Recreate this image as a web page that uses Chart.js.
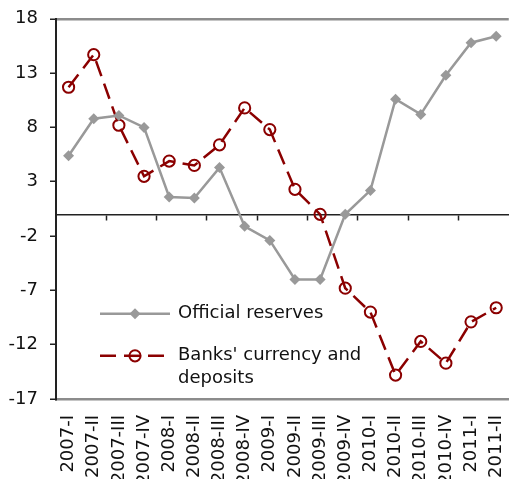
<!DOCTYPE html>
<html>
<head>
<meta charset="utf-8">
<script src="https://cdn.jsdelivr.net/npm/chart.js@4.4.0/dist/chart.umd.min.js"></script>
<style>
  html, body { margin: 0; padding: 0; background: #fff; overflow: hidden; }
  #wrap { width: 526px; height: 483px; margin-top: -4px; }
</style>
</head>
<body>
<div id="wrap"><canvas id="flows-chart"></canvas></div>
<script>
// Quarterly flows, 2007-I to 2011-II
const quarters = ['2007-I', '2007-II', '2007-III', '2007-IV', '2008-I', '2008-II', '2008-III', '2008-IV',
  '2009-I', '2009-II', '2009-III', '2009-IV', '2010-I', '2010-II', '2010-III', '2010-IV', '2011-I', '2011-II'];
const officialReserves = [5.4, 8.8, 9.1, 8.0, 1.6, 1.5, 4.3, -1.1, -2.4, -6.0, -6.0, 0.0, 2.2, 10.6, 9.2, 12.8, 15.8, 16.4];
const banksDeposits = [11.7, 14.7, 8.2, 3.5, 4.9, 4.5, 6.4, 9.8, 7.8, 2.3, 0.0, -6.8, -9.0, -14.8, -11.7, -13.7, -9.9, -8.6];
const yTicks = [18, 13, 8, 3, -2, -7, -12, -17];

const FONT = 'DejaVu Sans';
const GREY = '#999999';
const RED = '#8b0000';

// legend drawn inside the plot area, lower left
const insideLegend = {
    id: 'insideLegend',
    afterDatasetsDraw(chart) {
        const ctx = chart.ctx;
        const area = chart.chartArea;
        const x0 = area.left + 44, x1 = area.left + 114, mx = area.left + 79, tx = area.left + 122;
        const rows = [
            { y: area.top + 295, ds: chart.data.datasets[0], lines: ['Official reserves'] },
            { y: area.top + 337, ds: chart.data.datasets[1], lines: ["Banks' currency and", 'deposits'] }
        ];
        ctx.save();
        rows.forEach(function (row) {
            const ds = row.ds;
            ctx.strokeStyle = ds.borderColor;
            ctx.lineWidth = ds.borderWidth;
            ctx.setLineDash(ds.borderDash || []);
            ctx.beginPath();
            ctx.moveTo(x0, row.y);
            ctx.lineTo(x1, row.y);
            ctx.stroke();
            ctx.setLineDash([]);
            const r = ds.pointRadius;
            if (ds.pointStyle === 'rectRot') {
                ctx.fillStyle = ds.pointBackgroundColor;
                ctx.beginPath();
                ctx.moveTo(mx, row.y - r);
                ctx.lineTo(mx + r, row.y);
                ctx.lineTo(mx, row.y + r);
                ctx.lineTo(mx - r, row.y);
                ctx.closePath();
                ctx.fill();
            } else {
                ctx.fillStyle = '#fff';
                ctx.strokeStyle = ds.pointBorderColor;
                ctx.lineWidth = ds.pointBorderWidth;
                ctx.beginPath();
                ctx.arc(mx, row.y, r, 0, Math.PI * 2);
                ctx.fill();
                ctx.stroke();
                ctx.strokeStyle = ds.borderColor;
                ctx.lineWidth = ds.borderWidth;
                ctx.beginPath();
                ctx.moveTo(mx - r, row.y);
                ctx.lineTo(mx + r, row.y);
                ctx.stroke();
            }
            ctx.fillStyle = '#111';
            ctx.font = '18px "' + FONT + '"';
            ctx.textBaseline = 'middle';
            ctx.textAlign = 'left';
            row.lines.forEach(function (line, i) {
                ctx.fillText(line, tx, row.y + i * 23);
            });
        });
        ctx.restore();
    }
};

const ctx = document.querySelector('#flows-chart').getContext('2d');

const flowsGraph = new Chart(ctx, {
    type: 'line',
    data: {
        labels: quarters,
        datasets: [
            {
                label: 'Official reserves',
                data: officialReserves,
                borderColor: GREY,
                borderWidth: 2.5,
                pointStyle: 'rectRot',
                pointRadius: 5.5,
                pointBackgroundColor: GREY,
                pointBorderColor: GREY,
                pointBorderWidth: 0,
                tension: 0
            },
            {
                label: "Banks' currency and deposits",
                data: banksDeposits,
                borderColor: RED,
                borderWidth: 2.5,
                borderDash: [16, 8],
                pointStyle: 'circle',
                pointRadius: 5.6,
                pointBackgroundColor: 'rgba(0,0,0,0)',
                pointBorderColor: RED,
                pointBorderWidth: 2,
                tension: 0
            }
        ]
    },
    options: {
        responsive: true,
        maintainAspectRatio: false,
        animation: false,
        layout: { padding: { top: 12, right: 0, left: 0, bottom: 0 } },
        plugins: {
            legend: { display: false },
            tooltip: { enabled: false }
        },
        scales: {
            x: {
                offset: true,
                border: { color: '#8c8c8c', width: 2.5 },
                grid: { display: false },
                ticks: {
                    color: '#111',
                    font: { family: FONT, size: 18 },
                    minRotation: 90,
                    maxRotation: 90,
                    autoSkip: false,
                    padding: 8
                },
                afterFit(scale) { scale.height = 80; }
            },
            // zero line with tick marks every two quarters
            x0: {
                type: 'category',
                position: { y: 0 },
                offset: true,
                border: { color: '#222', width: 1.5 },
                grid: {
                    offset: true,
                    drawOnChartArea: false,
                    tickLength: 5,
                    tickWidth: 1.5,
                    tickColor: function (c) { return (c.index % 2 === 0 && c.index > 0) ? '#222' : 'rgba(0,0,0,0)'; }
                },
                ticks: { display: false }
            },
            y: {
                min: -17,
                max: 18,
                afterBuildTicks(scale) { scale.ticks = yTicks.map(v => ({ value: v })); },
                border: { color: '#222', width: 2 },
                grid: {
                    color: function (c) { return c.tick && c.tick.value === 18 ? '#8c8c8c' : 'rgba(0,0,0,0)'; },
                    lineWidth: 2.5,
                    tickColor: '#222',
                    tickLength: 6,
                    tickWidth: 1.5
                },
                ticks: {
                    color: '#111',
                    font: { family: FONT, size: 18 },
                    padding: 12
                },
                afterFit(scale) { scale.width = 56; }
            }
        }
    },
    plugins: [insideLegend]
});
</script>
</body>
</html>
